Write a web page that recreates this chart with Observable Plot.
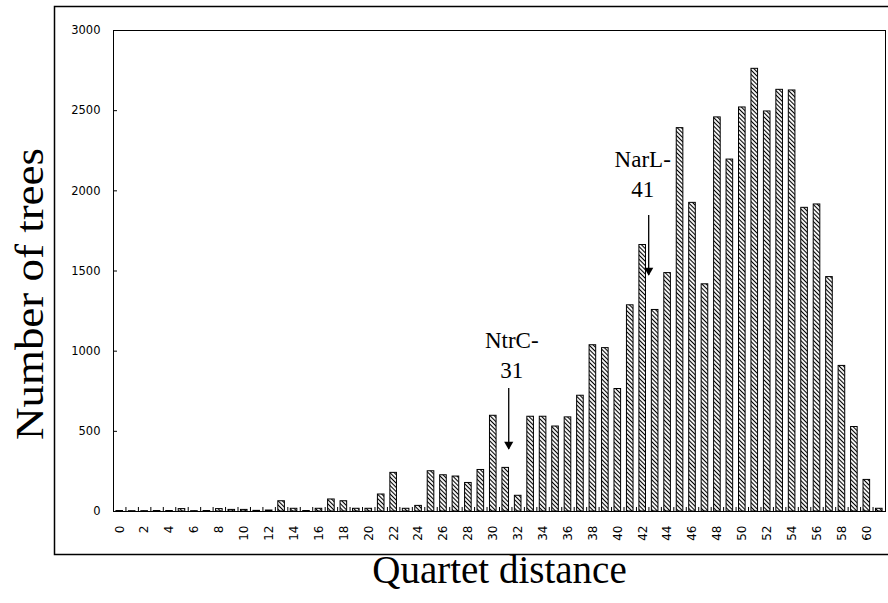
<!DOCTYPE html>
<html><head><meta charset="utf-8">
<script src="https://cdn.jsdelivr.net/npm/d3@7"></script>
<script src="https://cdn.jsdelivr.net/npm/@observablehq/plot@0.6"></script>
<style>body{margin:0;background:#fff} #chart svg{display:block}</style>
</head><body><div id="chart"></div>
<script>
// Quartet distance categories
const distances = [0,1,2,3,4,5,6,7,8,9,10,11,12,13,14,15,16,17,18,19,20,21,22,23,24,25,26,27,28,29,30,
  31,32,33,34,35,36,37,38,39,40,41,42,43,44,45,46,47,48,49,50,51,52,53,54,55,56,57,58,59,60,61];
// Number of trees at each distance
const counts = [3,2,2,3,3,15,2,3,15,10,10,4,6,64,17,3,17,75,64,17,17,106,241,17,35,251,226,218,178,259,597,
  272,98,591,591,530,587,722,1037,1019,764,1286,1662,1257,1487,2391,1925,1417,2458,2195,2520,2761,2495,2630,
  2626,1894,1915,1462,908,527,197,17];
const xTickLabels = [0,2,4,6,8,10,12,14,16,18,20,22,24,26,28,30,32,34,36,38,40,42,44,46,48,50,52,54,56,58,60];
const yTicks = [0,500,1000,1500,2000,2500,3000];
const xTitle = "Quartet distance";
const yTitle = "Number of trees";
// annotations: label, category, text bottom value, arrow top, arrow tip
const annLabels = ["NtrC-\n31", "NarL-\n41"];
const annAt = [31, 42];
const annTextY = [832, 1961];
const annArrowTop = [767, 1846];
const annArrowTip = [387, 1472];
// pixel nudges (style) for each annotation's text and arrow
const annTextDx = [6, 0];
const annArrowDx = [3, 6];

const rows = distances.map((d, i) => ({distance: d, trees: counts[i]}));
const ann = annLabels.map((l, i) => ({label: l, at: annAt[i], ty: annTextY[i], top: annArrowTop[i], tip: annArrowTip[i]}));

const annMarks = ann.flatMap((a, i) => [
  Plot.text([a], {x: "at", y: "ty", text: "label", lineAnchor: "bottom", lineHeight: 1.3, fontSize: 23,
    fontFamily: "'Liberation Serif', serif", fill: "#000", dx: annTextDx[i]}),
  Plot.ruleX([a], {x: "at", y1: "top", y2: "tip", dx: annArrowDx[i], stroke: "#000", strokeWidth: 1.3}),
  Plot.dot([a], {x: "at", y: "tip", dx: annArrowDx[i], dy: -5, symbol: "triangle", rotate: 180, r: 3.4, fill: "#000", stroke: "none"})
]);

const chart = Plot.plot({
  width: 888, height: 603,
  marginLeft: 113, marginRight: 3, marginTop: 30, marginBottom: 92,
  style: {fontFamily: "'DejaVu Sans', sans-serif", fontSize: "11px", color: "#000", background: "#fff"},
  x: {type: "band", domain: distances, paddingInner: 0.47, paddingOuter: 0.235, align: 0.5, round: false},
  y: {domain: [0, 3000]},
  marks: [
    Plot.barY(rows, {x: "distance", y: "trees", fill: "white", stroke: "#000", strokeWidth: 1}),
    Plot.ruleX(distances, {x: d => d, y1: 0, y2: 25, dx: -6.23, stroke: "#000"}),
    Plot.frame({stroke: "#000"}),
    Plot.axisX({ticks: xTickLabels, tickSize: 0, tickPadding: 14, tickRotate: -90, label: null, fontSize: 12}),
    Plot.axisY({ticks: yTicks, tickSize: -4, tickPadding: 17, label: null, tickFormat: "d", fontSize: 11.5}),
    Plot.text([yTitle], {frameAnchor: "left", dx: -83, dy: 169, rotate: -90, textAnchor: "start", fontSize: 40, fontFamily: "'Liberation Serif', serif"}),
    Plot.text([xTitle], {frameAnchor: "bottom", dy: 71, fontSize: 39, fontFamily: "'Liberation Serif', serif"}),
    ...annMarks
  ]
});
document.getElementById("chart").appendChild(chart);

const svg = d3.select(chart);
const defs = svg.insert("defs", ":first-child");
const pat = defs.append("pattern").attr("id", "hatch").attr("patternUnits", "userSpaceOnUse")
  .attr("width", 3).attr("height", 3).attr("patternTransform", "rotate(-45)");
pat.append("rect").attr("width", 3).attr("height", 3).attr("fill", "white");
pat.append("line").attr("x1", 1.5).attr("y1", 0).attr("x2", 1.5).attr("y2", 3).attr("stroke", "#000").attr("stroke-width", 1.1);
svg.selectAll('g[aria-label="bar"] rect').attr("fill", "url(#hatch)");
// y title stretched to the length seen in the figure
svg.selectAll('g[aria-label="text"] text').filter(function() { return this.textContent === yTitle; })
  .attr("textLength", 292).attr("lengthAdjust", "spacingAndGlyphs");
// outer figure border
svg.append("rect").attr("x", 54.5).attr("y", 6.5).attr("width", 840).attr("height", 548)
  .attr("fill", "none").attr("stroke", "#000").attr("stroke-width", 1.5);
</script>
</body></html>
